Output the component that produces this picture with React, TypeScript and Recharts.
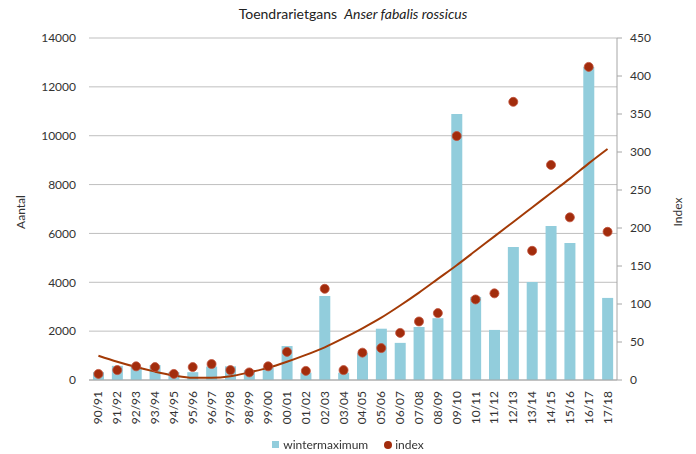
import React from 'react';
import {
  ComposedChart,
  Bar,
  Line,
  XAxis,
  YAxis,
  CartesianGrid,
  Legend,
} from 'recharts';

const seasons = [
  '90/91', '91/92', '92/93', '93/94', '94/95', '95/96', '96/97', '97/98', '98/99', '99/00',
  '00/01', '01/02', '02/03', '03/04', '04/05', '05/06', '06/07', '07/08', '08/09', '09/10',
  '10/11', '11/12', '12/13', '13/14', '14/15', '15/16', '16/17', '17/18',
];

const wintermaximum = [
  320, 580, 530, 610, 320, 320, 550, 560, 400, 520,
  1390, 300, 3440, 300, 1100, 2100, 1520, 2170, 2530, 10890,
  3400, 2050, 5440, 4010, 6300, 5610, 12810, 3360,
];

const indexValues = [
  8, 13, 18, 17, 8, 17, 21, 13, 10, 18,
  37, 12, 120, 13, 36, 42, 62, 77, 88, 321,
  106, 114, 366, 170, 283, 214, 412, 195,
];

// trendline at each season
const trend = [
  32, 24, 17, 11, 6, 3, 3, 5, 10, 16,
  24, 33, 43, 55, 68, 82, 98, 115, 133, 151,
  170, 189, 208, 227, 246, 265, 285, 304,
];

const leftTicks = [0, 2000, 4000, 6000, 8000, 10000, 12000, 14000];
const rightTicks = [0, 50, 100, 150, 200, 250, 300, 350, 400, 450];

const data = seasons.map((season, i) => ({
  season,
  wintermaximum: wintermaximum[i],
  index: indexValues[i],
  trend: trend[i],
}));

const FONT = 'Lato, "Open Sans", sans-serif';
const BAR_COLOR = '#92CDDC';
const DOT_COLOR = '#A22C0C';
const TREND_COLOR = '#A33A06';
const TEXT_COLOR = '#333333';

function SeasonTick({ x, y, payload }: any) {
  return (
    <g transform={`translate(${x},${y})`}>
      <text
        x={0}
        y={0}
        dy={4}
        textAnchor="end"
        transform="rotate(-90)"
        fontSize={12}
        fontFamily={FONT}
        fill={TEXT_COLOR}
      >
        {payload.value}
      </text>
    </g>
  );
}

function AxisTitle({ cx, cy, text }: any) {
  return (
    <text
      x={cx}
      y={cy}
      textAnchor="middle"
      dominantBaseline="central"
      transform={`rotate(-90, ${cx}, ${cy})`}
      fontSize={12}
      fontFamily={FONT}
      fill={TEXT_COLOR}
    >
      {text}
    </text>
  );
}

function LegendContent() {
  return (
    <div
      style={{
        display: 'flex',
        justifyContent: 'center',
        alignItems: 'center',
        fontFamily: FONT,
        fontSize: 12,
        color: TEXT_COLOR,
      }}
    >
      <span style={{ width: 7, height: 7, background: BAR_COLOR, marginRight: 4 }} />
      <span style={{ marginRight: 16 }}>wintermaximum</span>
      <span
        style={{
          width: 8,
          height: 8,
          borderRadius: '50%',
          background: DOT_COLOR,
          marginRight: 3,
        }}
      />
      <span>index</span>
    </div>
  );
}

export default function App() {
  return (
    <div
      style={{
        position: 'fixed',
        left: 0,
        top: 0,
        width: 696,
        height: 454,
        background: '#fff',
      }}
    >
      <div
        style={{
          position: 'absolute',
          top: 5,
          left: 0,
          width: 706,
          textAlign: 'center',
          fontFamily: FONT,
          fontSize: 14,
          color: '#222',
        }}
      >
        Toendrarietgans&nbsp;&nbsp;<i>Anser fabalis rossicus</i>
      </div>
      <ComposedChart
        width={696}
        height={454}
        data={data}
        margin={{ top: 38, right: 0, bottom: 0, left: 0 }}
        barCategoryGap={0}
      >
        <CartesianGrid yAxisId="left" vertical={false} stroke="#BFBFBF" strokeWidth={1} />
        <XAxis
          dataKey="season"
          interval={0}
          height={40}
          tickLine={false}
          tickSize={0}
          tickMargin={11}
          axisLine={{ stroke: '#A6A6A6' }}
          tick={<SeasonTick />}
        />
        <YAxis
          yAxisId="left"
          width={89}
          domain={[0, 14000]}
          ticks={leftTicks}
          interval={0}
          axisLine={false}
          tickLine={false}
          tickSize={0}
          tickMargin={13}
          tick={{ fill: TEXT_COLOR, fontSize: 12, fontFamily: FONT }}
          label={<AxisTitle cx={20} cy={212} text="Aantal" />}
        />
        <YAxis
          yAxisId="right"
          orientation="right"
          width={79}
          domain={[0, 450]}
          ticks={rightTicks}
          interval={0}
          axisLine={{ stroke: '#A6A6A6' }}
          tickLine={{ stroke: '#A6A6A6' }}
          tickSize={5}
          tickMargin={8}
          tick={{ fill: TEXT_COLOR, fontSize: 12, fontFamily: FONT }}
          label={<AxisTitle cx={677} cy={212} text="Index" />}
        />
        <Legend
          verticalAlign="bottom"
          height={34}
          wrapperStyle={{ top: 437, left: 0, width: 696 }}
          content={<LegendContent />}
        />
        <Bar
          yAxisId="left"
          dataKey="wintermaximum"
          fill={BAR_COLOR}
          barSize={11}
          isAnimationActive={false}
        />
        <Line
          yAxisId="right"
          dataKey="trend"
          type="monotone"
          stroke={TREND_COLOR}
          strokeWidth={2}
          dot={false}
          activeDot={false}
          isAnimationActive={false}
        />
        <Line
          yAxisId="right"
          dataKey="index"
          stroke="none"
          strokeWidth={0}
          dot={{ r: 4.5, fill: DOT_COLOR, stroke: '#C0503A', strokeWidth: 0.8 }}
          activeDot={false}
          isAnimationActive={false}
        />
      </ComposedChart>
    </div>
  );
}
